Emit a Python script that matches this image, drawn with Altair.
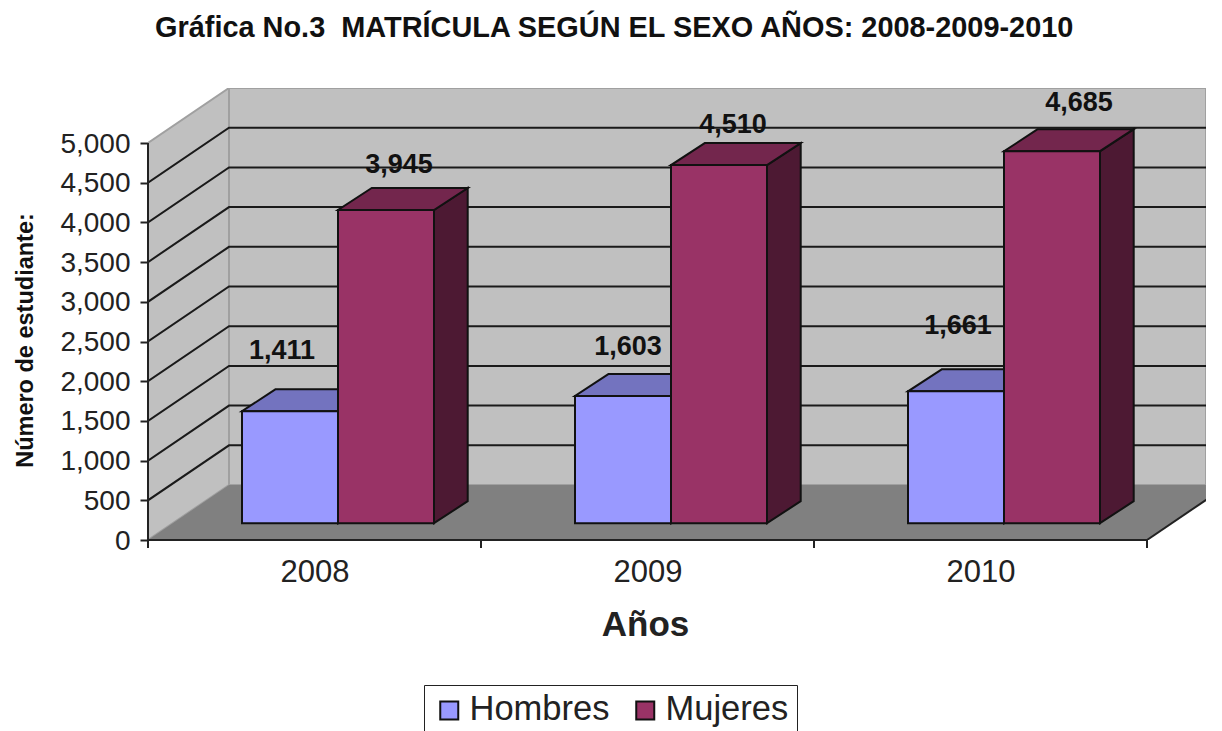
import altair as alt
import pandas as pd

YEARS = ["2008", "2009", "2010"]
SERIES = ["Hombres", "Mujeres"]
HOMBRES = [1411, 1603, 1661]
MUJERES = [3945, 4510, 4685]
Y_TICKS = [0, 500, 1000, 1500, 2000, 2500, 3000, 3500, 4000, 4500, 5000]

FRONT = {"Hombres": "#9999FF", "Mujeres": "#993366"}
TOP = {"Hombres": "#7373BF", "Mujeres": "#73264D"}
SIDE = {"Hombres": "#4D4D80", "Mujeres": "#4D1933"}

# layout: pixels per data unit, and the oblique depth of the 3-D box
PX_X = 333.0
PX_Y = 397 / 5000
W, H = 1058, 452
DX = 81 / PX_X
DY = 55 / PX_Y
XMAX = W / PX_X
YMAX = H / PX_Y
BAR_W = 96 / PX_X
BAR_START = 94 / PX_X
BAR_LIFT = 16.8 / PX_Y
BDX = 33.7 / PX_X
BDY = 22 / PX_Y
# hand placement of the value labels, in px (right, up) from the bar's front-top centre
NUDGE = {
    ("2008", "Hombres"): (-8, 60), ("2009", "Hombres"): (5, 49), ("2010", "Hombres"): (2, 65),
    ("2008", "Mujeres"): (13, 45), ("2009", "Mujeres"): (14, 40), ("2010", "Mujeres"): (27, 48),
}

xs = alt.Scale(domain=[0, XMAX], nice=False, zero=False)
ys = alt.Scale(domain=[0, YMAX], nice=False, zero=False)

X_AXIS = alt.Axis(
    values=[0.5, 1.5, 2.5], labelExpr=f"{YEARS}[floor(datum.value)]",
    ticks=False, domain=False, grid=False,
    labelFontSize=31, labelFont="Liberation Sans", labelColor="#222222", labelPadding=17,
    labelAngle=0, labelOverlap=False,
    titleFontSize=35, titleFont="Liberation Sans", titleFontWeight="bold", titleColor="#222222",
    titleX=645 - 148, titleY=635 - 540, titleBaseline="alphabetic", titleAlign="center",
)
Y_AXIS = alt.Axis(
    values=Y_TICKS, labelExpr="format(datum.value, ',')", tickSize=8, tickColor="#222222", tickWidth=2,
    domain=False, grid=False,
    labelFontSize=28, labelFont="Liberation Sans", labelColor="#222222", labelPadding=10, labelOffset=1,
    titleFontSize=23.5, titleFont="Liberation Sans", titleFontWeight="bold", titleColor="#111111",
    titleX=25 - 148, titleY=340 - 88, titleAngle=-90, titleAlign="center", titleBaseline="middle",
)


def X(f="x", **k):
    return alt.X(f"{f}:Q", scale=xs, axis=X_AXIS, title="Años", **k)


def Y(f="y", **k):
    return alt.Y(f"{f}:Q", scale=ys, axis=Y_AXIS, title="Número de estudiante:", **k)


def side_area(rows, color, stroke=None, width=0, **mk):
    return alt.Chart(pd.DataFrame(rows)).mark_area(
        color=color, stroke=stroke or color, strokeWidth=width, orient="vertical", clip=True, **mk
    ).encode(x=X(), y=Y(stack=None), y2="y2:Q", detail="id:N")


def flat_area(rows, color, stroke=None, width=0):
    return alt.Chart(pd.DataFrame(rows)).mark_area(
        color=color, stroke=stroke or color, strokeWidth=width, orient="horizontal", clip=True
    ).encode(y=Y(), x=X(stack=None), x2="x2:Q", detail="id:N")


layers = []

# back wall
back = alt.Chart(pd.DataFrame([{"x": DX, "x2": XMAX, "y": DY, "y2": 5000 + DY}])).mark_rect(
    color="#C0C0C0", stroke="#A0A0A0", strokeWidth=2, clip=True
).encode(x=X(), x2="x2:Q", y=Y(), y2="y2:Q")
layers.append(back)

# left wall
layers.append(side_area(
    [{"id": "w", "x": 0, "y": 0, "y2": 5000}, {"id": "w", "x": DX, "y": DY, "y2": 5000 + DY}],
    "#C0C0C0", "#A0A0A0", 2,
))

# floor
layers.append(flat_area(
    [{"id": "f", "y": 0, "x": 0, "x2": 3}, {"id": "f", "y": DY, "x": DX, "x2": 3 + DX}], "#808080"
))

# grid lines on the two walls
grid = []
for t in Y_TICKS[1:-1]:
    grid += [
        {"id": t, "x": 0, "y": t},
        {"id": t, "x": DX, "y": t + DY},
        {"id": t, "x": XMAX, "y": t + DY},
    ]
layers.append(
    alt.Chart(pd.DataFrame(grid)).mark_line(color="#1a1a1a", strokeWidth=2, clip=True)
    .encode(x=X(), y=Y(), detail="id:N", order="x:Q")
)

# right floor edge
layers.append(
    alt.Chart(pd.DataFrame([{"x": 3, "y": 0}, {"x": 3 + DX, "y": DY}]))
    .mark_line(color="#222222", strokeWidth=2, clip=True)
    .encode(x=X(), y=Y())
)

# axis lines and category tick marks
layers.append(
    alt.Chart(pd.DataFrame([{"x": 0, "x2": 3, "y": 0}])).mark_rule(color="#222222", strokeWidth=2)
    .encode(x=X(), x2="x2:Q", y=Y())
)
layers.append(
    alt.Chart(pd.DataFrame([{"x": 0, "y": 0, "y2": 5000}])).mark_rule(color="#222222", strokeWidth=2)
    .encode(x=X(), y=Y(), y2="y2:Q")
)
layers.append(
    alt.Chart(pd.DataFrame([{"x": i, "y": 0, "y2": -8 / PX_Y} for i in range(0, 4)]))
    .mark_rule(color="#222222", strokeWidth=2)
    .encode(x=X(), y=Y(), y2="y2:Q")
)

# bars
bars = []
labels = []
for i, year in enumerate(YEARS):
    for j, (serie, vals) in enumerate(zip(SERIES, [HOMBRES, MUJERES])):
        x0 = i + BAR_START + j * BAR_W
        x1 = x0 + BAR_W
        v = vals[i]
        bars.append({
            "id": f"{year}{serie}", "serie": serie, "x": x0, "x2": x1,
            "y": BAR_LIFT, "y2": BAR_LIFT + v, "v": v,
        })
        nx, ny = NUDGE[(year, serie)]
        labels.append({"x": (x0 + x1) / 2 + nx / PX_X, "y": BAR_LIFT + v + ny / PX_Y, "v": v})

for serie in SERIES:
    for b in [r for r in bars if r["serie"] == serie]:
        layers.append(side_area(
            [
                {"id": b["id"], "x": b["x2"], "y": b["y"], "y2": b["y2"]},
                {"id": b["id"], "x": b["x2"] + BDX, "y": b["y"] + BDY, "y2": b["y2"] + BDY},
            ],
            SIDE[serie], "#111111", 2,
        ))
        layers.append(flat_area(
            [
                {"id": b["id"], "y": b["y2"], "x": b["x"], "x2": b["x2"]},
                {"id": b["id"], "y": b["y2"] + BDY, "x": b["x"] + BDX, "x2": b["x2"] + BDX},
            ],
            TOP[serie], "#111111", 2,
        ))

layers.append(
    alt.Chart(pd.DataFrame(bars)).mark_bar(stroke="#111111", strokeWidth=2).encode(
        x=X(), x2="x2:Q", y=Y(), y2="y2:Q",
        color=alt.Color("serie:N", scale=alt.Scale(domain=SERIES, range=[FRONT[s] for s in SERIES]), legend=alt.Legend(
            title=None, orient="none", legendX=424 - 148, legendY=685 - 88, direction="horizontal",
            columns=2, columnPadding=18, symbolType="square", symbolSize=324, symbolStrokeColor="#111111",
            symbolStrokeWidth=2, symbolOpacity=1, labelFontSize=34.5, labelFont="Liberation Sans", labelColor="#222222",
            labelOffset=3, strokeColor="#222222", fillColor="#FFFFFF", padding=8, labelLimit=300,
        )),
    )
)

# value labels
layers.append(
    alt.Chart(pd.DataFrame(labels)).mark_text(
        font="Liberation Sans", fontSize=27, fontWeight="bold", color="#111111", baseline="middle", align="center"
    ).encode(x=X(), y=Y(), text=alt.Text("v:Q", format=","))
)

chart = alt.layer(*layers).properties(
    width=W, height=H,
    padding={"left": 140, "top": 80, "right": 0, "bottom": 191},
    autosize=alt.AutoSizeParams(type="none"),
    title=alt.TitleParams(
        "Gráfica No.3\u00a0\u00a0MATRÍCULA SEGÚN EL SEXO AÑOS: 2008-2009-2010",
        font="Liberation Sans", fontSize=28.9, fontWeight="bold", color="#111111",
        anchor="start", frame="group", dx=7, offset=22, baseline="alphabetic",
    ),
).configure_view(stroke=None)

chart.save("out.html", embed_options={"renderer": "svg", "actions": False})
